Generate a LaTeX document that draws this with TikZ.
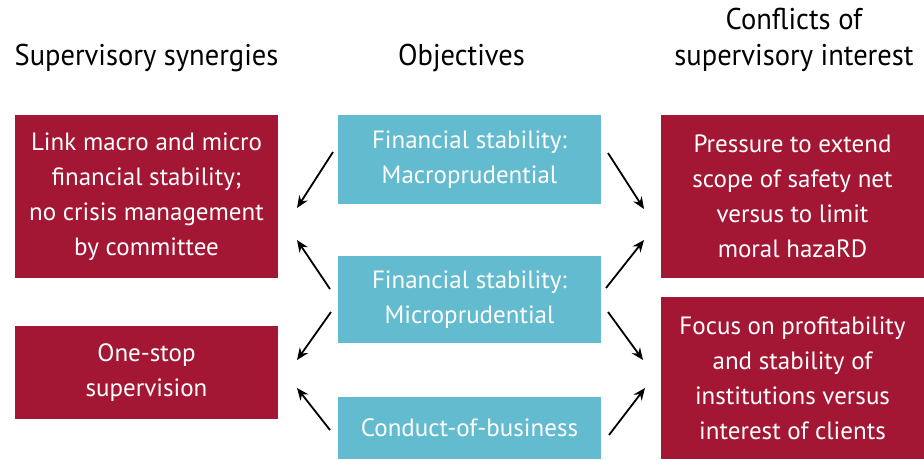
\documentclass[tikz,border=0pt]{standalone}
\usepackage{fontspec}
\setmainfont{PT Sans}
\newfontfamily\headfont[FakeStretch=0.95]{PT Sans}
\usetikzlibrary{arrows.meta}
\definecolor{boxred}{RGB}{163,23,53}
\definecolor{boxteal}{RGB}{98,187,206}
\begin{document}
\begin{tikzpicture}[x=1pt,y=-1pt,
  basebox/.style={minimum width=263pt,inner sep=0pt,align=center,text=white,
    font=\fontsize{25}{35}\selectfont},
  redbox/.style={basebox,fill=boxred},
  tealbox/.style={basebox,fill=boxteal},
  header/.style={align=center,inner sep=0pt,font=\headfont\fontsize{30}{36}\selectfont},
  conn/.style={line width=1.8pt,-{Stealth[length=12pt,width=10pt]}}]
\useasboundingbox (0,0) rectangle (924,459);

% headers
\node[header] (h1) at (146.5,58) {Supervisory synergies};
\node[header] (h2) at (461.5,58) {Objectives};
\node[header] (h3) at (794,40) {Conflicts of\\supervisory interest};

% left column
\node[redbox,minimum height=163pt] (syn1) at (146.5,196.5) {Link macro and micro\\financial stability;\\no crisis management\\by committee};
\node[redbox,minimum height=93pt] (syn2) at (146.5,372.5) {One-stop\\supervision};

% middle column
\node[tealbox,minimum height=89pt] (mac) at (469.5,159.5) {Financial stability:\\Macroprudential};
\node[tealbox,minimum height=87pt] (mic) at (469.5,299.5) {Financial stability:\\Microprudential};
\node[tealbox,minimum height=62pt] (cob) at (469.5,428) {Conduct-of-business};

% right column
\node[redbox,minimum height=163pt] (con1) at (792.5,196.5) {Pressure to extend\\scope of safety net\\versus to limit\\moral hazaRD};
\node[redbox,minimum height=162pt] (con2) at (792.5,378) {Focus on profitability\\and stability of\\institutions versus\\interest of clients};

% arrow end points
\coordinate (a1s) at (333,152); \coordinate (a1e) at (297,208);
\coordinate (a2s) at (330,289); \coordinate (a2e) at (297,240);
\coordinate (a3s) at (331,312); \coordinate (a3e) at (297,360);
\coordinate (a4s) at (330,430); \coordinate (a4e) at (297,388);
\coordinate (b1s) at (608,153); \coordinate (b1e) at (644,209);
\coordinate (b2s) at (606,288); \coordinate (b2e) at (644,240);
\coordinate (b3s) at (608,312); \coordinate (b3e) at (643,360);
\coordinate (b4s) at (609,435); \coordinate (b4e) at (645,388);

\foreach \n in {a1,a2,a3,a4,b1,b2,b3,b4}
  \draw[conn] (\n s) -- (\n e);
\end{tikzpicture}
\end{document}
